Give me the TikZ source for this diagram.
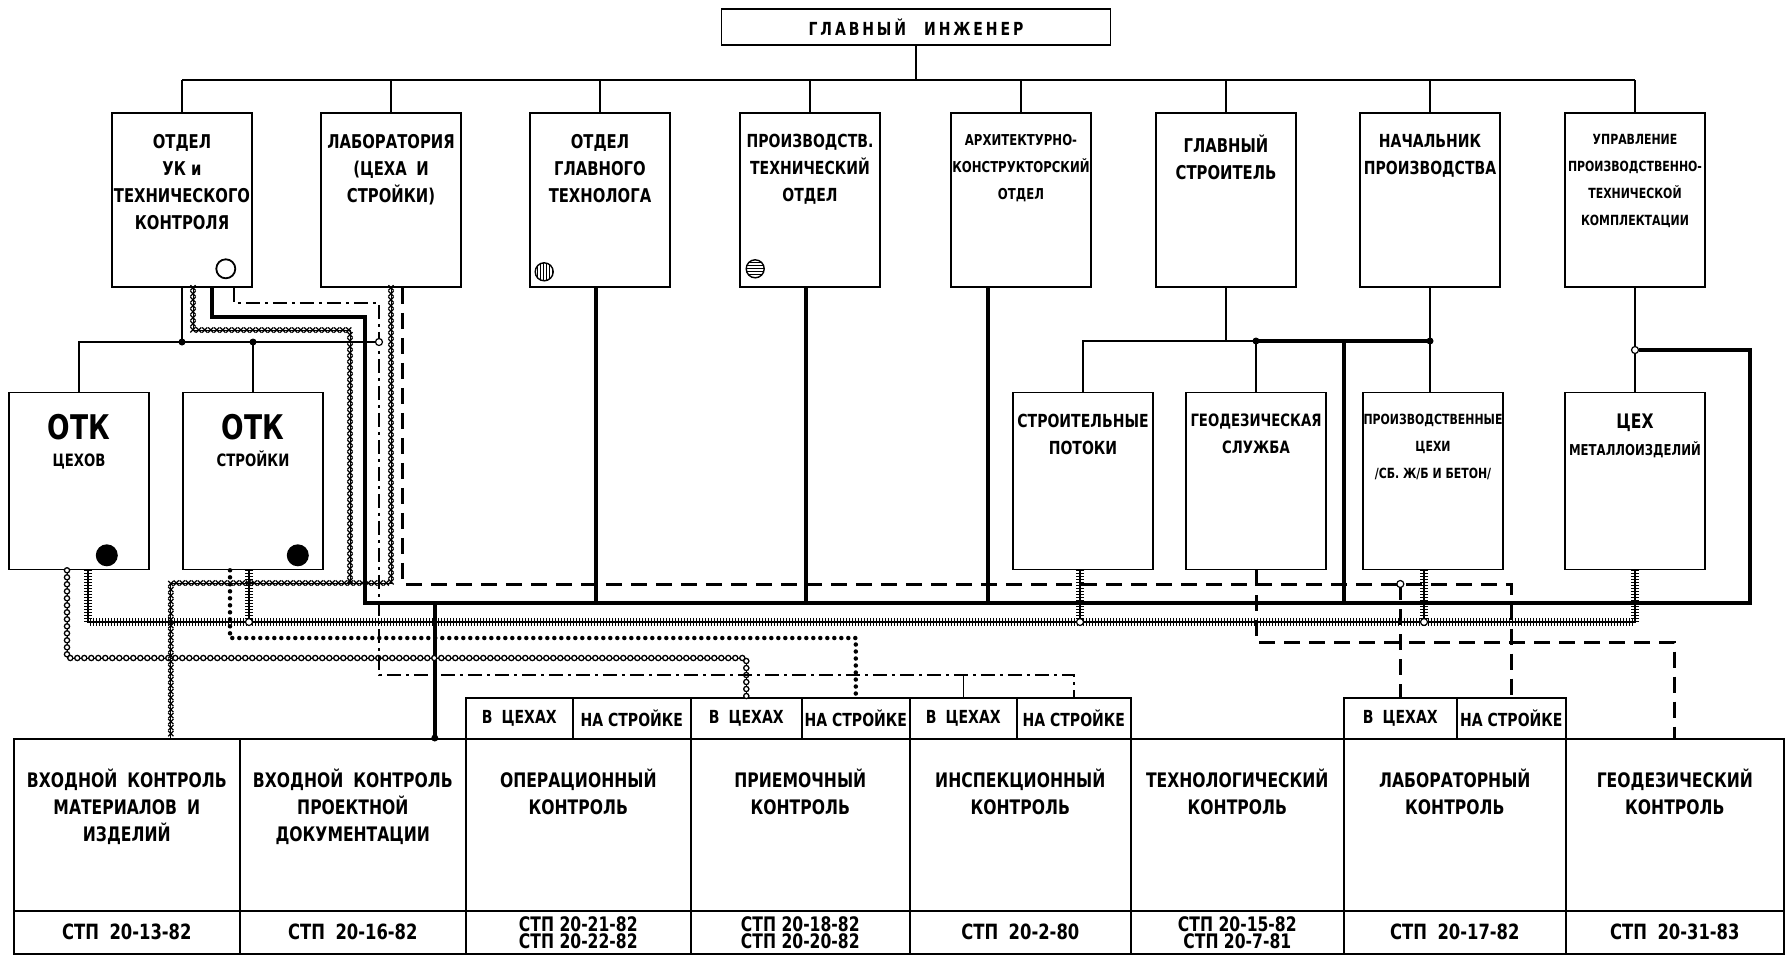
\documentclass[tikz,border=0pt]{standalone}
\usepackage{fontspec}
\setmainfont{DejaVu Sans}[FakeStretch=0.78]
\usetikzlibrary{calc,positioning,patterns}
\usetikzlibrary{decorations.markings,decorations.pathreplacing}
\newcommand{\sz}[1]{\fontsize{#1}{27}\selectfont\bfseries}

\tikzset{
  box/.style={draw, line width=1.6pt, minimum width=140pt, inner sep=0pt},
  tbox/.style={box, minimum height=174pt},
  mbox/.style={box, minimum height=177pt},
  cell/.style={draw, line width=1.6pt, inner sep=0pt, anchor=north west, align=center},
  lbl/.style={align=center, inner sep=0pt},
  omark/.style={circle, draw, line width=1.8pt, inner sep=0pt, minimum size=19pt},
  fmark/.style={circle, fill, inner sep=0pt, minimum size=22pt},
  vmark/.style={circle, draw, line width=1.4pt, pattern=vertical lines, inner sep=0pt, minimum size=18pt},
  hmark/.style={circle, draw, line width=1.4pt, pattern=horizontal lines, inner sep=0pt, minimum size=18pt},
  jdot/.style={circle, fill, inner sep=0pt, minimum size=7pt},
  jring/.style={circle, draw, fill=white, line width=1.2pt, inner sep=0pt, minimum size=7pt},
  thinln/.style={line width=1.5pt},
  thickln/.style={line width=4.5pt},
  dashln/.style={line width=3pt, dash pattern=on 16pt off 9pt},
  ddln/.style={line width=2.5pt, dash pattern=on 14pt off 5pt on 3pt off 5pt},
  dotln/.style={line width=4.5pt, line cap=round, dash pattern=on 0pt off 7pt},
  ringln/.style={line width=1pt, decoration={markings, mark=between positions 0 and 1 step 7pt with {\draw[line width=1.3pt, fill=white] (0,0) circle (2.6pt);}}, postaction={decorate}},
  crossln/.style={line width=1pt, decoration={markings, mark=between positions 0 and 1 step 6pt with {\draw[line width=1.2pt] (-2.6pt,-2.6pt) -- (2.6pt,2.6pt) (-2.6pt,2.6pt) -- (2.6pt,-2.6pt);}}, postaction={decorate}},
  tickln/.style={line width=1.8pt, postaction={draw, line width=0.9pt, decorate, decoration={ticks, segment length=3pt, amplitude=4pt}}},
}

\begin{document}
\begin{tikzpicture}[x=1pt, y=-1pt]
\fill[white] (0,0) rectangle (1788,956);
\useasboundingbox (0,0) rectangle (1788,956);

\node[box, minimum width=389pt, minimum height=36pt, font={\sz{18}\addfontfeature{LetterSpace=16}}] (gi) at (916,27) {ГЛАВНЫЙ\quad ИНЖЕНЕР};

\foreach \n/\x/\fs/\txt in {
  uk/182/19/{ОТДЕЛ\\УК и\\ТЕХНИЧЕСКОГО\\КОНТРОЛЯ},
  lab/391/19/{ЛАБОРАТОРИЯ\\(ЦЕХА\enspace И\\СТРОЙКИ)},
  tech/600/19/{ОТДЕЛ\\ГЛАВНОГО\\ТЕХНОЛОГА},
  pto/810/18/{ПРОИЗВОДСТВ.\\ТЕХНИЧЕСКИЙ\\ОТДЕЛ},
  ako/1021/15/{АРХИТЕКТУРНО-\\КОНСТРУКТОРСКИЙ\\ОТДЕЛ},
  gs/1226/19/{ГЛАВНЫЙ\\СТРОИТЕЛЬ},
  np/1430/18/{НАЧАЛЬНИК\\ПРОИЗВОДСТВА},
  upr/1635/14/{УПРАВЛЕНИЕ\\ПРОИЗВОДСТВЕННО-\\ТЕХНИЧЕСКОЙ\\КОМПЛЕКТАЦИИ}}
{
  \node[tbox] (\n) at (\x,200) {};
  \node[lbl, font=\sz{\fs}, below=22pt of \n.north] (\n-t) {\txt};
}
\node[omark] (uk-m) at ([xshift=-27pt,yshift=19pt]uk.south east) {};
\node[vmark] (tech-m) at ([xshift=15pt,yshift=16pt]tech.south west) {};
\node[hmark] (pto-m) at ([xshift=16pt,yshift=19pt]pto.south west) {};

\foreach \n/\x/\fs/\txt in {
  otkc/79/17/{{\sz{34}ОТК}\\ЦЕХОВ},
  otks/253/17/{{\sz{34}ОТК}\\СТРОЙКИ},
  sp/1083/18/{СТРОИТЕЛЬНЫЕ\\ПОТОКИ},
  geo/1256/17/{ГЕОДЕЗИЧЕСКАЯ\\СЛУЖБА},
  pc/1433/14/{ПРОИЗВОДСТВЕННЫЕ\\ЦЕХИ\\/СБ. Ж/Б И БЕТОН/},
  cm/1635/15/{{\sz{20}ЦЕХ}\\МЕТАЛЛОИЗДЕЛИЙ}}
{
  \node[mbox] (\n) at (\x,481) {};
  \node[lbl, font=\sz{\fs}, below=22pt of \n.north] (\n-t) {\txt};
}
\node[fmark] (otkc-m) at ([xshift=-43pt,yshift=15pt]otkc.south east) {};
\node[fmark] (otks-m) at ([xshift=-26pt,yshift=15pt]otks.south east) {};

\foreach \i/\xa/\xb/\fz/\txt/\stp in {
  1/13/239/21/{ВХОДНОЙ\enspace КОНТРОЛЬ\\МАТЕРИАЛОВ\enspace И\\ИЗДЕЛИЙ}/{СТП\enspace 20-13-82},
  2/239/465/21/{ВХОДНОЙ\enspace КОНТРОЛЬ\\ПРОЕКТНОЙ\\ДОКУМЕНТАЦИИ}/{СТП\enspace 20-16-82},
  3/465/690/20/{ОПЕРАЦИОННЫЙ\\КОНТРОЛЬ}/{СТП 20-21-82\\СТП 20-22-82},
  4/690/909/20/{ПРИЕМОЧНЫЙ\\КОНТРОЛЬ}/{СТП 20-18-82\\СТП 20-20-82},
  5/909/1130/21/{ИНСПЕКЦИОННЫЙ\\КОНТРОЛЬ}/{СТП\enspace 20-2-80},
  6/1130/1343/20/{ТЕХНОЛОГИЧЕСКИЙ\\КОНТРОЛЬ}/{СТП 20-15-82\\СТП 20-7-81},
  7/1343/1565/21/{ЛАБОРАТОРНЫЙ\\КОНТРОЛЬ}/{СТП\enspace 20-17-82},
  8/1565/1783/21/{ГЕОДЕЗИЧЕСКИЙ\\КОНТРОЛЬ}/{СТП\enspace 20-31-83}}
{
  \node[cell, minimum width={(\xb-\xa)*1pt}, minimum height=172pt] (h\i) at (\xa,738) {};
  \node[lbl, font=\sz{20}, below=31pt of h\i.north] (h\i-t) {\txt};
  \node[cell, minimum width={(\xb-\xa)*1pt}, minimum height=43pt, font={\fontsize{\fz}{17}\selectfont\bfseries}] (s\i) at (\xa,910) {\stp};
}
\foreach \i/\xa/\xm/\xb in {3/465/572/690, 4/690/801/909, 5/909/1016/1130, 7/1343/1456/1565}
{
  \node[cell, font=\sz{18}, minimum width={(\xm-\xa)*1pt}, minimum height=41pt] (v\i) at (\xa,697) {В\enspace ЦЕХАХ};
  \node[cell, font=\sz{18}, minimum width={(\xb-\xm)*1pt}, minimum height=41pt] (n\i) at (\xm,697) {НА СТРОЙКЕ};
}

\coordinate (bus) at (0,80);
\coordinate (kbus) at (0,342);
\coordinate (sbus) at (0,341);
\coordinate (tk) at (0,603);
\coordinate (tl) at (0,622);
\coordinate (cy) at (0,638);
\coordinate (dy) at (0,658);
\coordinate (ey) at (0,675);
\coordinate (ay) at (0,583);
\coordinate (fy) at (0,584);
\coordinate (gy) at (0,642);
\coordinate (ac) at (350,330);
\coordinate (dc) at (379,303);
\coordinate (kc) at (365,317);
\coordinate (rc) at (1750,350);
\coordinate (sk) at (1344,341);

\draw[thinln] (gi.south) -- (gi.south |- bus);
\draw[thinln] (uk.north |- bus) -- (upr.north |- bus);
\foreach \n in {uk,lab,tech,pto,ako,gs,np,upr}
  \draw[thinln] (\n.north) -- (\n.north |- bus);

\draw[thinln] (uk.south) -- (uk.south |- kbus);
\draw[thinln] (otkc.north) |- (dc |- kbus);
\draw[thinln] (otks.north) -- (otks.north |- kbus);
\node[jdot] (j1) at (uk.south |- kbus) {};
\node[jdot] (j2) at (otks.north |- kbus) {};

\draw[thinln] (gs.south) -- (gs.south |- sbus);
\draw[thinln] (sp.north) |- (geo.north |- sbus);
\draw[thinln] (geo.north) -- (geo.north |- sbus);
\draw[thickln] (geo.north |- sbus) -- (np.south |- sbus);
\draw[thinln] (np.south) -- (np.south |- pc.north);
\node[jdot] (j3) at (geo.north |- sbus) {};
\node[jdot] (j4) at (np.south |- sbus) {};
\draw[thinln] (upr.south) -- (cm.north);
\node[jring] (j5) at (upr.south |- rc) {};

\draw[thickln] ([xshift=30pt]uk.south) |- (kc) |- (rc |- tk) -- (rc) -- (j5);
\foreach \n/\dx in {tech/-4, pto/-4, ako/-33}
  \draw[thickln] ([xshift=\dx]\n.south) -- ([xshift=\dx]\n.south |- tk);
\draw[thickln] (sk) -- (sk |- tk);
\draw[thickln] ([xshift=82pt]h2.north |- tk) -- ([xshift=82pt]h2.north);
\node[jdot] (j6) at ([xshift=82pt]h2.north) {};

\draw[tickln] ([xshift=9pt]otkc.south) |- (cm.south |- tl) -- (cm.south);
\foreach \n/\dx in {otks/-4, sp/-3, pc/-9} {
  \draw[tickln] ([xshift=\dx]\n.south) -- ([xshift=\dx]\n.south |- tl);
  \node[jring] (\n-r) at ([xshift=\dx]\n.south |- tl) {};
}

\draw[dotln] ([xshift=-23pt]otks.south) |- (n4.north |- cy) -- (n4.north);
\draw[ringln] ([xshift=-12pt]otkc.south) |- (v4.north |- dy) -- (v4.north);

\draw[crossln] ([xshift=11pt]uk.south) |- (ac) -- (ac |- ay);
\draw[crossln] (lab.south) |- ([xshift=44pt]h1.north |- ay) -- ([xshift=44pt]h1.north);

\draw[ddln] ([xshift=52pt]uk.south) |- (dc) |- (n5.north |- ey) -- (n5.north);
\draw[thinln] (v5.north |- ey) -- (v5.north);
\node[jring] (j7) at (dc |- kbus) {};

\draw[dashln] ([xshift=11pt]lab.south) |- (n7.north |- fy) -- (n7.north);
\draw[dashln] (v7.north |- fy) -- (v7.north);
\node[jring] (j8) at (v7.north |- fy) {};
\draw[dashln] (geo.south) |- (h8.north |- gy) -- (h8.north);
\end{tikzpicture}
\end{document}
